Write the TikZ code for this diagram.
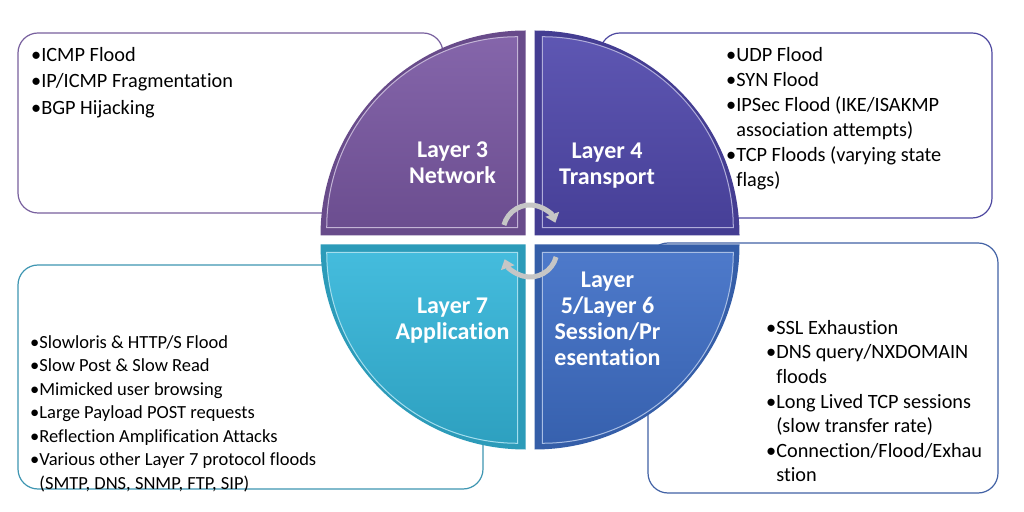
\documentclass[tikz,border=0pt]{standalone}
\usepackage{fontspec}
\setmainfont[Ligatures=NoCommon]{Carlito}
\usetikzlibrary{arrows.meta}

\definecolor{netpurple}{RGB}{122,88,163}
\definecolor{transindigo}{RGB}{80,72,172}
\definecolor{appcyan}{RGB}{52,182,218}
\definecolor{sesblue}{RGB}{62,110,198}
\definecolor{netedge}{RGB}{120,96,158}
\definecolor{transedge}{RGB}{78,72,160}
\definecolor{appedge}{RGB}{62,150,178}
\definecolor{sesedge}{RGB}{66,98,165}

\tikzset{
  attackbox/.style={rounded corners=20pt, fill=white, line width=1.2pt},
  layerlabel/.style={text=white, align=center, inner sep=0pt, font=\bfseries\fontsize{24}{26}\selectfont},
  attacklist/.style={anchor=north west, align=left, inner sep=0pt, font=\fontsize{20.3}{26.5}\selectfont},
  cyclearrow/.style={line width=5pt, gray!45, -{Triangle[length=9pt,width=14pt]}},
}

\begin{document}
\begin{tikzpicture}[x=1pt,y=1pt]
                        \fill[white] (0,0) rectangle (1024,511);
                        \useasboundingbox (0,0) rectangle (1024,511);

                        % attack lists behind the wheel
                        \draw[attackbox, draw=netedge] (18,298) rectangle (443,478);
                        \draw[attackbox, draw=transedge] (600,293) rectangle (992,478);
                        \draw[attackbox, draw=appedge] (18,22) rectangle (483,246);
                        \draw[attackbox, draw=sesedge] (648,18) rectangle (998,268);

                        % the four layer quadrants
                        \foreach \a/\c/\px/\py in {180/netpurple/525.5/275.5, 90/transindigo/534.5/275.5, 0/sesblue/534.5/266.5, -90/appcyan/525.5/266.5} {
                            \fill[\c!85!black] (\px,\py) -- ++(\a:205) arc[start angle=\a, end angle=\a-90, radius=205] -- cycle;
                            \shade[top color=\c!92!white, bottom color=\c!88!black] ([shift={(\a-45:11)}]\px,\py) -- ++(\a:191) arc[start angle=\a, end angle=\a-90, radius=191] -- cycle;
                            \draw[\c!45!white, line width=1pt] ([shift={(\a-45:11)}]\px,\py) -- ++(\a:191) arc[start angle=\a, end angle=\a-90, radius=191] -- cycle;
                        }

                        \coordinate (hub) at (530,271);
                        \draw[cyclearrow] ([yshift=8]hub) ++(165:27) arc[start angle=165, end angle=20, radius=27];
                        \draw[cyclearrow] ([yshift=-10]hub) ++(-15:27) arc[start angle=-15, end angle=-160, radius=27];

                        \node[layerlabel] (netlabel) at (452.5,348) {Layer 3\\Network};
                        \node[layerlabel] (translabel) at (607,345) {Layer 4\\Transport};
                        \node[layerlabel] (applabel) at (452.5,190) {Layer 7\\Application};
                        \node[layerlabel] (seslabel) at (607.5,192.5) {Layer\\5/Layer 6\\Session/Pr\\esentation};

                        \node[attacklist] (netlist) at (31,464) {\textbullet ICMP Flood\\\textbullet IP/ICMP Fragmentation\\\textbullet BGP Hijacking};
                        \node[attacklist, font=\fontsize{20.3}{25}\selectfont] (translist) at (726,464) {\textbullet UDP Flood\\\textbullet SYN Flood\\\textbullet IPSec Flood (IKE/ISAKMP\\\phantom{\textbullet}association attempts)\\\textbullet TCP Floods (varying state\\\phantom{\textbullet}flags)};
                        \node[attacklist, font=\fontsize{18.5}{23.5}\selectfont] (applist) at (30,176) {\textbullet Slowloris \& HTTP/S Flood\\\textbullet Slow Post \& Slow Read\\\textbullet Mimicked user browsing\\\textbullet Large Payload POST requests\\\textbullet Reflection Amplification Attacks\\\textbullet Various other Layer 7 protocol floods\\\phantom{\textbullet}(SMTP, DNS, SNMP, FTP, SIP)};
                        \node[attacklist, font=\fontsize{20.3}{24.6}\selectfont] (seslist) at (766,191) {\textbullet SSL Exhaustion\\\textbullet DNS query/NXDOMAIN\\\phantom{\textbullet}floods\\\textbullet Long Lived TCP sessions\\\phantom{\textbullet}(slow transfer rate)\\\textbullet Connection/Flood/Exhau\\\phantom{\textbullet}stion};
                    \end{tikzpicture}
\end{document}
